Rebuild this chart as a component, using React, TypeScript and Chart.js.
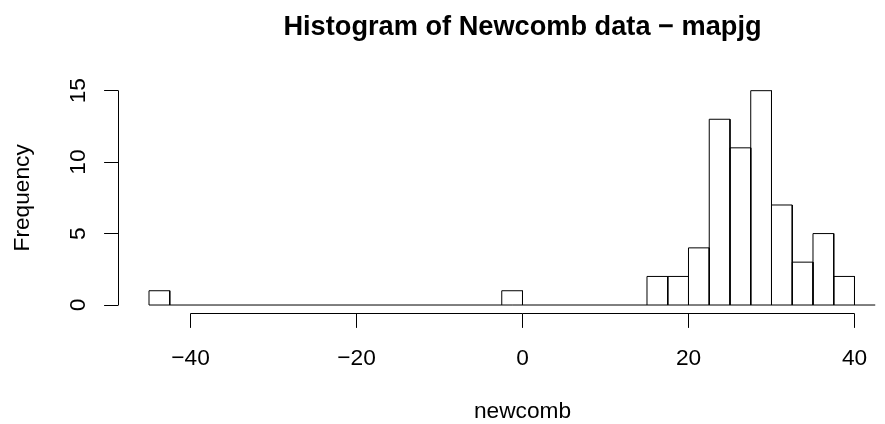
import React, { useEffect, useRef } from "react";
import { Chart, registerables } from "chart.js";

Chart.register(...registerables);

// Histogram data (non-empty bins only), bin width 2.5
const binStarts = [-45, -2.5, 15, 17.5, 20, 22.5, 25, 27.5, 30, 32.5, 35, 37.5];
const counts = [1, 1, 2, 2, 4, 13, 11, 15, 7, 3, 5, 2];
const binWidth = 2.5;
const histRange = [-45, 42.5];

const xTicks = [-40, -20, 0, 20, 40];
const yTicks = [0, 5, 10, 15];
const titleText = "Histogram of Newcomb data \u2212 mapjg";
const xLabel = "newcomb";
const yLabel = "Frequency";

const FONT = "'Liberation Sans', Arial, Helvetica, sans-serif";
const fmt = (v: number) => (v < 0 ? "\u2212" + Math.abs(v) : String(v));

const rPlot = {
  id: "rPlot",
  afterDraw(chart: any) {
    const { ctx, chartArea, scales } = chart;
    const xs = scales.x;
    const ys = scales.y;
    ctx.save();
    ctx.strokeStyle = "#000";
    ctx.fillStyle = "#000";
    ctx.lineWidth = 1;
    const crisp = (v: number) => Math.round(v - 0.5) + 0.5;

    // x axis
    const yAx = crisp(chartArea.bottom);
    const tickLen = 14.4;
    ctx.beginPath();
    ctx.moveTo(xs.getPixelForValue(xTicks[0]), yAx);
    ctx.lineTo(xs.getPixelForValue(xTicks[xTicks.length - 1]), yAx);
    xTicks.forEach((t) => {
      const px = crisp(xs.getPixelForValue(t));
      ctx.moveTo(px, yAx);
      ctx.lineTo(px, yAx + tickLen);
    });
    // y axis
    const xAx = crisp(chartArea.left);
    ctx.moveTo(xAx, ys.getPixelForValue(yTicks[0]));
    ctx.lineTo(xAx, ys.getPixelForValue(yTicks[yTicks.length - 1]));
    yTicks.forEach((t) => {
      const py = crisp(ys.getPixelForValue(t));
      ctx.moveTo(xAx, py);
      ctx.lineTo(xAx - tickLen, py);
    });
    ctx.stroke();

    // x tick labels
    ctx.font = `22.7px ${FONT}`;
    ctx.textAlign = "center";
    ctx.textBaseline = "alphabetic";
    xTicks.forEach((t) => {
      ctx.fillText(fmt(t), xs.getPixelForValue(t), 365);
    });
    // y tick labels (rotated)
    yTicks.forEach((t) => {
      ctx.save();
      ctx.translate(85, ys.getPixelForValue(t));
      ctx.rotate(-Math.PI / 2);
      ctx.fillText(fmt(t), 0, 0);
      ctx.restore();
    });

    // axis titles
    const cx = 522.5;
    ctx.fillText(xLabel, cx, 418);
    ctx.save();
    ctx.translate(29, (ys.getPixelForValue(yTicks[0]) + ys.getPixelForValue(yTicks[yTicks.length - 1])) / 2);
    ctx.rotate(-Math.PI / 2);
    ctx.fillText(yLabel, 0, 0);
    ctx.restore();

    // main title
    ctx.font = `bold 27.2px ${FONT}`;
    ctx.fillText(titleText, cx, 35);
    ctx.restore();
  },
};

export default function App() {
  const ref = useRef<HTMLCanvasElement>(null);
  useEffect(() => {
    if (!ref.current) return;
    const outline: any[] = [];
    binStarts.forEach((x0, i) => {
      const x1 = x0 + binWidth;
      const h = counts[i];
      outline.push({ x: x0, y: 0 }, { x: x0, y: h }, { x: x1, y: h }, { x: x1, y: 0 }, { x: x1, y: null });
    });
    const baseline = [
      { x: histRange[0], y: 0 },
      { x: histRange[1], y: 0 },
    ];
    const chart = new Chart(ref.current, {
      type: "scatter",
      data: {
        datasets: [
          {
            data: baseline,
            showLine: true,
            borderColor: "#000",
            borderWidth: 1,
            pointRadius: 0,
          },
          {
            data: outline,
            showLine: true,
            spanGaps: false,
            borderColor: "#000",
            borderWidth: 1,
            pointRadius: 0,
          },
        ],
      },
      options: {
        responsive: false,
        devicePixelRatio: 1,
        animation: false,
        layout: { padding: { left: 118.5, right: 0, top: 82.1, bottom: 424 - 313.6 } },
        plugins: { legend: { display: false }, tooltip: { enabled: false }, title: { display: false } },
        scales: {
          x: { type: "linear", display: false, min: -48.675, max: 43.675 },
          y: { type: "linear", display: false, min: -0.6, max: 15.6 },
        },
      },
      plugins: [rPlot],
    });
    return () => chart.destroy();
  }, []);
  return (
    <div style={{ position: "absolute", left: 0, top: 0, width: 885, height: 424, background: "#fff" }}>
      <canvas ref={ref} width={885} height={424} style={{ display: "block" }} />
    </div>
  );
}
